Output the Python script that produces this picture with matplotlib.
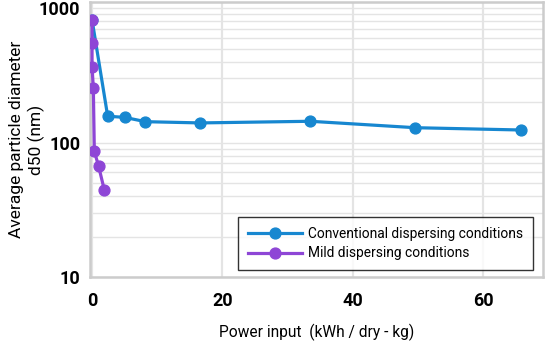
import numpy as np
import matplotlib
matplotlib.use("Agg")
import matplotlib.pyplot as plt
from matplotlib.ticker import FixedLocator, NullFormatter, LogLocator

plt.rcParams['font.family'] = ['Roboto', 'DejaVu Sans']

# data
conv_x = [0, 2.4, 5.0, 8.2, 16.6, 33.5, 49.6, 65.9]
conv_y = [820, 157, 154, 143, 140, 144, 129, 124]
mild_x = [0, 0, 0, 0.2, 0.35, 1.0, 1.9]
mild_y = [820, 547, 366, 253, 86, 67, 44]
x_ticks = [0, 20, 40, 60]
y_ticks = [10, 100, 1000]

fig = plt.figure(figsize=(5.46, 3.41), dpi=100)
ax = fig.add_axes([0.165, 0.1877, 0.8295, 0.8063])

ax.plot(conv_x, conv_y, color='#1787d0', lw=2.3, marker='o', ms=7.8,
        label='Conventional dispersing conditions', zorder=3)
ax.plot(mild_x, mild_y, color='#8e46d6', lw=2.3, marker='o', ms=7.8,
        label='Mild dispersing conditions', zorder=4)

ax.set_yscale('log')
ax.set_ylim(10, 1110)
ax.set_xlim(-0.3, 69.2)
ax.xaxis.set_major_locator(FixedLocator(x_ticks))
ax.yaxis.set_major_locator(FixedLocator(y_ticks))
ax.set_yticklabels([str(v) for v in y_ticks])
ax.yaxis.set_minor_locator(LogLocator(base=10, subs=np.arange(2, 10)))
ax.yaxis.set_minor_formatter(NullFormatter())

ax.grid(axis='x', which='major', color='#e4e4e4', lw=1.6)
ax.grid(axis='y', which='both', color='#e4e4e4', lw=1.0)
ax.set_axisbelow(True)

for s in ax.spines.values():
    s.set_color('#cccccc')
    s.set_linewidth(1.8)

ax.tick_params(which='both', length=0)
ax.tick_params(axis='x', pad=11)
ax.tick_params(axis='y', pad=7)
for lab in ax.get_xticklabels() + ax.get_yticklabels():
    lab.set_fontsize(13)
    lab.set_fontweight('bold')

ax.set_xlabel('Power input  (kWh / dry - kg)', fontsize=11.2, labelpad=10)
ax.set_ylabel('Average particle diameter\nd50 (nm)', fontsize=12.5,
              linespacing=1.3)
ax.yaxis.set_label_coords(-0.1, 0.5)

leg = ax.legend(loc='lower right', bbox_to_anchor=(0.978, 0.025), borderaxespad=0,
                fontsize=9.9, frameon=True, fancybox=False, edgecolor='black',
                handlelength=3.9, handletextpad=0.5, borderpad=0.7,
                labelspacing=0.4)
leg.get_frame().set_linewidth(1.0)

fig.savefig('out.png', dpi=100)
